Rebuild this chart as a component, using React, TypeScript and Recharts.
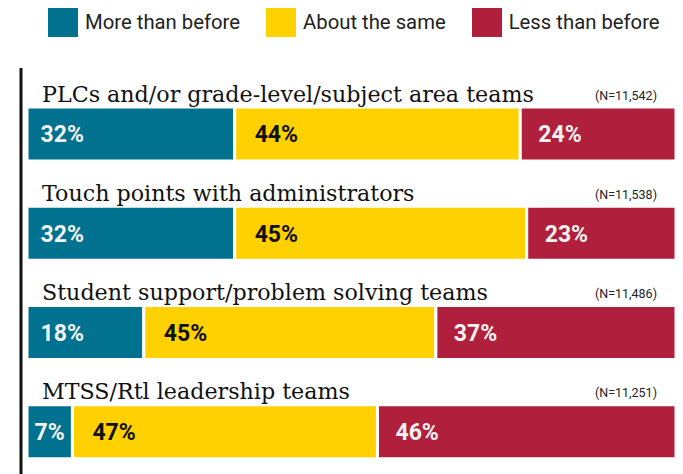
import React from "react";
import { BarChart, Bar, XAxis, YAxis, Legend, LabelList } from "recharts";

const categories = [
  "PLCs and/or grade-level/subject area teams",
  "Touch points with administrators",
  "Student support/problem solving teams",
  "MTSS/Rtl leadership teams",
];
const moreThanBefore = [32, 32, 18, 7];
const aboutTheSame = [44, 45, 45, 47];
const lessThanBefore = [24, 23, 37, 46];
const sampleSizes = ["(N=11,542)", "(N=11,538)", "(N=11,486)", "(N=11,251)"];
const seriesNames = ["More than before", "About the same", "Less than before"];
const seriesKeys = ["more", "same", "less"];

const COLORS = ["#00718F", "#FFD100", "#B01F3B"];
const LABEL_COLORS = ["#F2F2F2", "#111111", "#F2F2F2"];
const LABEL_OFFSETS = [13.5, 20, 18];

const data = categories.map((name, i) => ({
  name,
  more: moreThanBefore[i],
  same: aboutTheSame[i],
  less: lessThanBefore[i],
}));

const getBox = (props: any) => {
  const vb = props.viewBox || {};
  return {
    x: props.x ?? vb.x,
    y: props.y ?? vb.y,
    width: props.width ?? vb.width,
    height: props.height ?? vb.height,
  };
};

const makePctLabel = (si: number) => (props: any) => {
  const { x, y, width, height } = getBox(props);
  const value = props.value;
  const fontSize = 23;
  const txt = `${value}%`;
  const est = (txt.length - 1) * 0.56 * fontSize + 0.78 * fontSize;
  const off = LABEL_OFFSETS[si];
  const centered = width < est + 2 * off;
  return (
    <text
      x={centered ? x + width / 2 : x + off}
      y={y + height / 2}
      dy={fontSize * 0.36}
      textAnchor={centered ? "middle" : "start"}
      fontFamily="Roboto"
      fontWeight={700}
      fontSize={fontSize}
      fill={LABEL_COLORS[si]}
    >
      {txt}
    </text>
  );
};

const CategoryLabel = (props: any) => {
  const { y } = getBox(props);
  const index = props.index;
  return (
    <g>
      <text x={42} y={y - 5.5} fontFamily="DejaVu Serif" fontSize={22.2} fill="#111">
        {props.value}
      </text>
      <text x={657} y={y - 7.5} textAnchor="end" fontFamily="Roboto" fontSize={12.5} fill="#222">
        {sampleSizes[index]}
      </text>
    </g>
  );
};

const renderLegend = () => (
  <div
    style={{
      display: "flex",
      alignItems: "center",
      paddingLeft: 48,
      height: 44,
      width: 683,
      boxSizing: "border-box",
      fontFamily: "Roboto",
      fontSize: 20.3,
      color: "#222",
      whiteSpace: "nowrap",
    }}
  >
    {seriesNames.map((s, i) => (
      <div key={s} style={{ display: "flex", alignItems: "center", marginRight: 26, flexShrink: 0 }}>
        <span
          style={{ width: 30, height: 29, background: COLORS[i], display: "inline-block", marginRight: 7, flexShrink: 0 }}
        />
        <span style={{ whiteSpace: "nowrap" }}>{s}</span>
      </div>
    ))}
  </div>
);

export default function App() {
  return (
    <div style={{ width: 683, height: 474, overflow: "hidden", position: "relative", background: "#fff" }}>
      <style>{`body{margin:0;overflow:hidden;}`}</style>
      <BarChart
        width={683}
        height={490}
        data={data}
        layout="vertical"
        margin={{ top: 68, right: 7, bottom: 9, left: 20 }}
        barSize={54}
      >
        <XAxis type="number" domain={[0, 100]} hide padding={{ left: 6, right: 0 }} />
        <YAxis
          type="category"
          dataKey="name"
          width={1}
          tick={false}
          tickLine={false}
          axisLine={{ stroke: "#111", strokeWidth: 3 }}
          padding={{ top: 16, bottom: 0 }}
        />
        <Legend
          verticalAlign="middle"
          align="center"
          layout="horizontal"
          content={renderLegend}
          wrapperStyle={{ top: 0, left: 0, width: 683 }}
        />
        {seriesKeys.map((k, si) => (
          <Bar
            key={k}
            dataKey={k}
            name={seriesNames[si]}
            stackId="a"
            fill={COLORS[si]}
            stroke="#fff"
            strokeWidth={3}
            isAnimationActive={false}
          >
            {si === 0 && <LabelList dataKey="name" content={CategoryLabel} />}
            <LabelList dataKey={k} content={makePctLabel(si)} />
          </Bar>
        ))}
      </BarChart>
    </div>
  );
}
